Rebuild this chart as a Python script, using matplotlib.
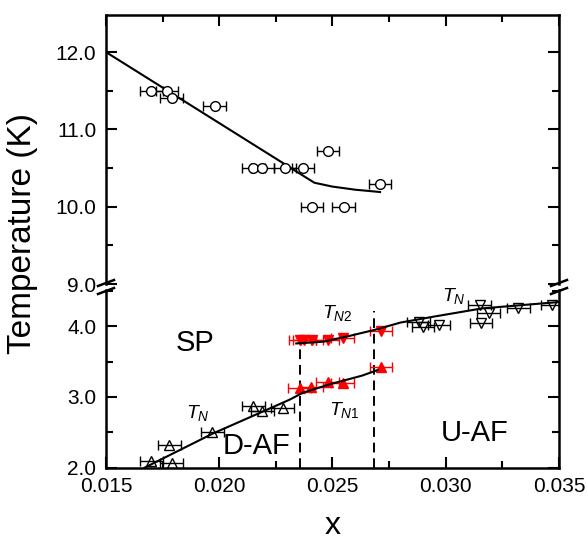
import numpy as np
import matplotlib.pyplot as plt
from matplotlib.lines import Line2D
from matplotlib.ticker import MultipleLocator, FormatStrFormatter

plt.rcParams['font.family'] = 'Liberation Sans'
plt.rcParams['mathtext.fontset'] = 'custom'
plt.rcParams['mathtext.it'] = 'Liberation Sans:italic'
plt.rcParams['mathtext.rm'] = 'Liberation Sans'

# spin-Peierls transition (upper panel)
sp_x = [0.0170, 0.0177, 0.0179, 0.0198, 0.0215, 0.0219, 0.0229, 0.0237,
        0.0241, 0.0248, 0.0255, 0.0271]
sp_t = [11.5, 11.5, 11.4, 11.3, 10.5, 10.5, 10.5, 10.5, 10.0, 10.72, 10.0, 10.3]
sp_fit_x = [0.0150, 0.0242, 0.0250, 0.0260, 0.0271]
sp_fit_t = [12.0, 10.31, 10.26, 10.22, 10.19]

# Neel temperature, dimerized AF side (open up-triangles)
daf_x = [0.0170, 0.0178, 0.0179, 0.0197, 0.0215, 0.0219, 0.0228]
daf_t = [2.10, 2.32, 2.06, 2.50, 2.87, 2.80, 2.85]

# T_N1 and T_N2 in the coexistence region (red)
tn1_x = [0.02355, 0.02406, 0.02479, 0.02545, 0.02714]
tn1_t = [3.12, 3.14, 3.21, 3.20, 3.42]
tn2_x = [0.02356, 0.02375, 0.02410, 0.02478, 0.02545, 0.02714]
tn2_t = [3.81, 3.81, 3.81, 3.80, 3.83, 3.93]

# Neel temperature, uniform AF side (open down-triangles)
uaf_x = [0.0288, 0.0290, 0.0297, 0.0315, 0.03155, 0.0319, 0.0332, 0.0347]
uaf_t = [4.06, 3.99, 4.01, 4.30, 4.04, 4.18, 4.25, 4.30]

x_err = 0.0005

# guide lines
low_fit_x = [0.0167, 0.0197, 0.0219, 0.0231, 0.0237, 0.0249, 0.0263, 0.0270]
low_fit_t = [2.00, 2.48, 2.79, 2.96, 3.06, 3.18, 3.30, 3.38]
high_fit_x = [0.0234, 0.0246, 0.0256, 0.0269, 0.0280, 0.0294, 0.0316, 0.0350]
high_fit_t = [3.755, 3.78, 3.85, 3.95, 4.05, 4.13, 4.25, 4.34]

# phase boundaries
boundary_x = [0.02358, 0.02685]
boundary_top = [3.74, 4.22]

W, H = 587, 542
fig = plt.figure(figsize=(W / 100, H / 100), dpi=100)
left_px, right_px = 106, 559
ax_hi = fig.add_axes([left_px / W, 1 - 284 / H, (right_px - left_px) / W, (284 - 15) / H])
ax_lo = fig.add_axes([left_px / W, 1 - 467.7 / H, (right_px - left_px) / W, (467.7 - 290) / H])

for ax in (ax_hi, ax_lo):
    ax.set_xlim(0.015, 0.035)
    ax.xaxis.set_major_locator(MultipleLocator(0.005))
    ax.xaxis.set_minor_locator(MultipleLocator(0.0025))
    ax.yaxis.set_major_locator(MultipleLocator(1.0))
    ax.yaxis.set_minor_locator(MultipleLocator(0.5))
    ax.yaxis.set_major_formatter(FormatStrFormatter('%.1f'))
    ax.xaxis.set_major_formatter(FormatStrFormatter('%.3f'))
    for s in ax.spines.values():
        s.set_linewidth(1.8)
    ax.tick_params(which='both', direction='in', width=1.5, labelsize=15,
                   top=True, right=True, pad=7)
    ax.tick_params(which='major', length=8)
    ax.tick_params(which='minor', length=5)

ax_hi.set_ylim(9.0, 12.48)
ax_hi.spines['bottom'].set_visible(False)
ax_hi.tick_params(axis='x', which='both', bottom=False, labelbottom=False)
ax_lo.set_ylim(2.0, 4.51)
ax_lo.spines['top'].set_visible(False)
ax_lo.tick_params(axis='x', which='both', top=False)
ax_lo.set_yticks([2.0, 3.0, 4.0])

eb = dict(xerr=x_err, ms=7, capsize=3.5, elinewidth=1, capthick=1, mew=1, ls='none')

ax_hi.plot(sp_fit_x, sp_fit_t, color='black', lw=1.5)
ax_hi.errorbar(sp_x, sp_t, fmt='o', mfc='white', mec='black', ecolor='black', **eb)

ax_lo.plot(low_fit_x, low_fit_t, color='black', lw=1.5, zorder=3)
ax_lo.plot(high_fit_x, high_fit_t, color='black', lw=1.5, zorder=3)
ax_lo.vlines(boundary_x, 2.0, boundary_top, colors='black', linestyles=(0, (5, 3)), lw=1.4)

ax_lo.errorbar(daf_x, daf_t, fmt='^', mfc='none', mec='black', ecolor='black', **eb)
ax_lo.errorbar(uaf_x, uaf_t, fmt='v', mfc='none', mec='black', ecolor='black', **eb)
ax_lo.errorbar(tn1_x, tn1_t, fmt='^', mfc='red', mec='red', ecolor='red', **eb)
ax_lo.errorbar(tn2_x, tn2_t, fmt='v', mfc='red', mec='red', ecolor='red', **eb)

ax_lo.text(0.01892, 3.76, 'SP', fontsize=21, ha='center', va='center')
ax_lo.text(0.02164, 2.30, 'D-AF', fontsize=21, ha='center', va='center')
ax_lo.text(0.03126, 2.49, 'U-AF', fontsize=21, ha='center', va='center')
ax_lo.text(0.01905, 2.77, r'$T_{N}$', fontsize=14, ha='center', va='center')
ax_lo.text(0.02522, 4.18, r'$T_{\mathit{N2}}$', fontsize=14, ha='center', va='center')
ax_lo.text(0.02553, 2.81, r'$T_{\mathit{N1}}$', fontsize=14, ha='center', va='center')
ax_lo.text(0.03037, 4.42, r'$T_{N}$', fontsize=14, ha='center', va='center')

# axis break marks on both spines
for xs in (left_px, right_px):
    for yb in (286, 294):
        fig.add_artist(Line2D([(xs - 8) / W, (xs + 8) / W],
                              [1 - yb / H, 1 - (yb - 6) / H],
                              color='black', lw=1.8))

fig.text(23 / W, 1 - 233 / H, 'Temperature (K)', rotation=90, fontsize=24,
         ha='center', va='center')
fig.text((left_px + right_px) / 2 / W, 0.001, 'x', fontsize=23,
         ha='center', va='bottom')

fig.savefig('out.png', dpi=100)
